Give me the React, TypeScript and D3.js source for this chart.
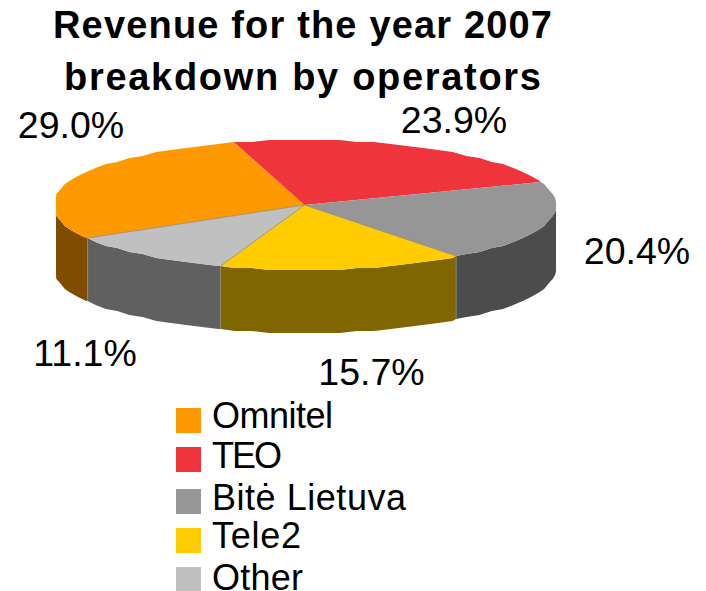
import React from "react";
import * as d3 from "d3";

const titleLines = ["Revenue for the year 2007", "breakdown by operators"];
const titleWidths = [499, 477];
const categories = ["Omnitel", "TEO", "Bitė Lietuva", "Tele2", "Other"];
const legendWidths = [121, 70, 194, 89, 91];
const shares = [29.0, 23.9, 20.4, 15.7, 11.1];
const topColors = ["#ff9900", "#ef343b", "#969696", "#ffcc00", "#c0c0c0"];
const wallColors = ["#804d00", "#78191d", "#4c4c4c", "#806600", "#606060"];
const shareLabels = ["29.0%", "23.9%", "20.4%", "15.7%", "11.1%"];
const labelX = [71, 454, 637, 371.5, 85];
const labelY = [138, 133, 264, 385, 366];
const legendY = [408, 447, 489, 528, 567];
const legendBase = [428, 468, 510, 548, 590];

const W = 706, H = 591;
const cx = 304.5, cy = 205, rx = 252, ry = 65, depth = 63;
const xMin = 56, xMax = 556;
const deg = Math.PI / 180;
const start = -120.6 * deg;

const arcs = d3.pie<number>().sort(null).startAngle(start).endAngle(start + 2 * Math.PI)(shares);

// The rim of the reference is a coarse, slightly stepped outline.
const px = (a: number) => Math.min(xMax, Math.max(xMin, cx + rx * Math.sin(a)));
const py = (a: number) => Math.round((cy - ry * Math.cos(a)) / 2) * 2;
const line = d3.line<[number, number]>();

function rimAngles(a0: number, a1: number): number[] {
  const step = 4 * deg;
  const first = Math.ceil(a0 / step + 1e-6) * step;
  return [a0, ...d3.range(first, a1 - 1e-6, step), a1];
}

function topPath(a0: number, a1: number): string {
  const pts = rimAngles(a0, a1).map((a) => [px(a), py(a)] as [number, number]);
  return line([[cx, cy], ...pts]) + "Z";
}

function wallPath(a0: number, a1: number): string | null {
  const n = (x: number) => (x < 0 ? x + 2 * Math.PI : x);
  let s = n(a0), e = n(a1);
  if (e < s) e += 2 * Math.PI;
  s = Math.max(s, Math.PI / 2);
  e = Math.min(e, 1.5 * Math.PI);
  if (e <= s) return null;
  const angles = rimAngles(s, e);
  const top = angles.map((a) => [px(a), py(a)] as [number, number]);
  const bot = angles.slice().reverse().map((a) => [px(a), py(a) + depth] as [number, number]);
  return line(top.concat(bot)) + "Z";
}

const seamColor = "#8f8a70";

export default function App() {
  return (
    <svg
      width={W}
      height={H}
      viewBox={`0 0 ${W} ${H}`}
      style={{ position: "fixed", left: 0, top: 0, background: "#fff", fontFamily: "'Liberation Sans', Arial, sans-serif" }}
    >
      {titleLines.map((t, i) => (
        <text
          key={t}
          x={302.5}
          y={38 + i * 52}
          textAnchor="middle"
          fontSize={38}
          fontWeight="bold"
          textLength={titleWidths[i]}
          fill="#000"
        >
          {t}
        </text>
      ))}
      {arcs.map((d, i) => {
        const p = wallPath(d.startAngle, d.endAngle);
        return p ? <path key={i} d={p} fill={wallColors[i]} /> : null;
      })}
      {arcs.map((d, i) => (
        <path key={i} d={topPath(d.startAngle, d.endAngle)} fill={topColors[i]} />
      ))}
      {arcs.map((d, i) => {
        const a = d.startAngle < 0 ? d.startAngle + 2 * Math.PI : d.startAngle;
        if (a < Math.PI / 2 || a > 1.5 * Math.PI) return null;
        const pts: [number, number][] = [
          [cx, cy],
          [px(a), py(a)],
          [px(a), py(a) + depth],
        ];
        return <path key={i} d={line(pts) as string} fill="none" stroke={seamColor} strokeWidth={0.8} />;
      })}
      {shareLabels.map((t, i) => (
        <text key={t} x={labelX[i]} y={labelY[i]} textAnchor="middle" fontSize={37.5} fill="#000">
          {t}
        </text>
      ))}
      {categories.map((c, i) => (
        <g key={c}>
          <rect x={176} y={legendY[i]} width={25} height={25} fill={topColors[i]} />
          <text x={212} y={legendBase[i]} fontSize={36} textLength={legendWidths[i]} fill="#000">
            {c}
          </text>
        </g>
      ))}
    </svg>
  );
}
